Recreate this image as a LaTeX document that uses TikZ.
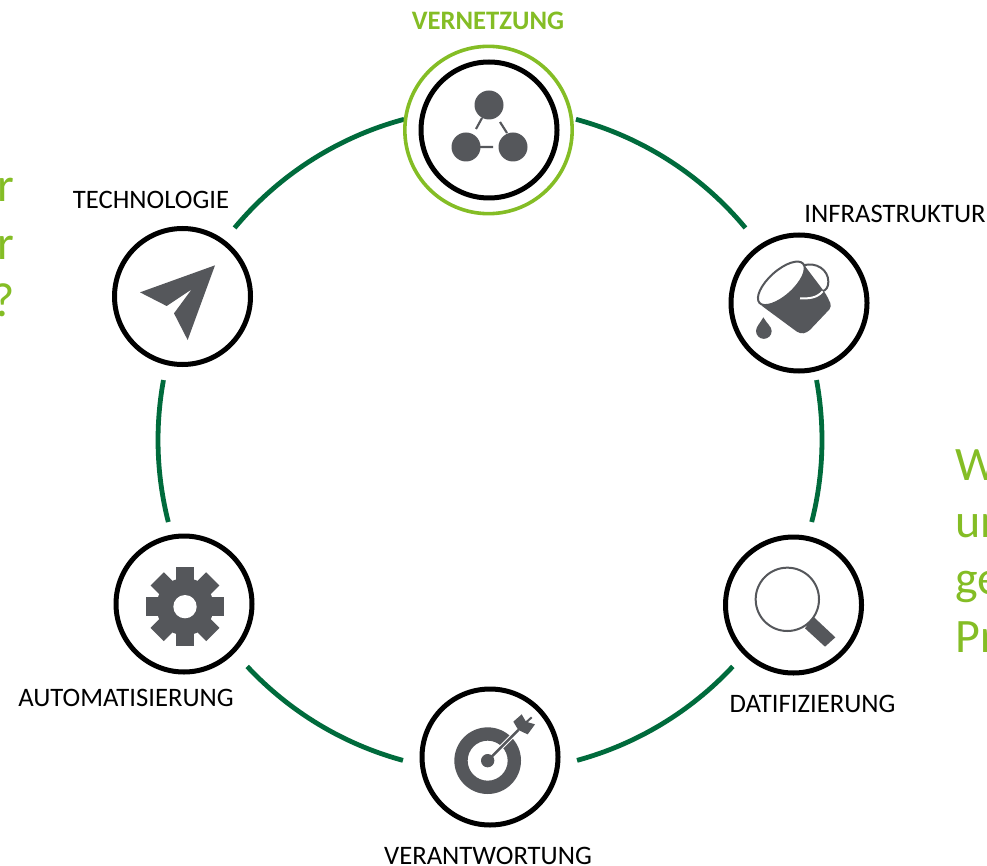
\documentclass[tikz,border=0pt]{standalone}
\usepackage{fontspec}
\usetikzlibrary{calc}
\setmainfont{Carlito}
\definecolor{lgreen}{HTML}{84BD25}
\definecolor{dgreen}{HTML}{006B3C}
\definecolor{icon}{HTML}{55575B}
\begin{document}
\begin{tikzpicture}[x=.75pt,y=.75pt,
  hub/.style={circle,draw=black,line width=3.75pt,fill=white,minimum size=102pt,inner sep=0pt},
  halo/.style={circle,draw=lgreen,line width=2.7pt,minimum size=125.5pt,inner sep=0pt},
  ringarc/.style={draw=dgreen,line width=3.6pt},
  lab/.style={font=\fontsize{20}{22}\selectfont,text=black,inner sep=0pt},
  big/.style={font=\fontsize{36}{40}\selectfont,text=lgreen,inner sep=0pt},
  ic/.style={fill=icon,draw=none},
  zoomed/.style={x=.25pt,y=-.25pt}]
\useasboundingbox (0,0) rectangle (987,865);
\clip (0,0) rectangle (987,865);
\fill[white] (0,0) rectangle (987,865);
\coordinate (c) at (490,425);
\foreach \n/\a/\b in {p/75/39.7,q/10.4/-14.3,r/-43/-74.8,s/-105.2/-137,t/194.3/169.6,u/140.3/105}{
  \coordinate (\n) at ($(c)+(\a:332)$);
  \draw[ringarc] (\n) arc[start angle=\a,end angle=\b,radius=332];
}
\node[hub] (vern) at (489,735) {};
\node[halo] (vernh) at (488.5,735) {};
\node[hub] (infra) at (799,562) {};
\node[hub] (dati) at (793.5,260) {};
\node[hub] (vera) at (490,108) {};
\node[hub] (auto) at (184,261) {};
\node[hub] (tech) at (182.5,568.5) {};
% labels
\node[lab,font=\fontsize{20}{22}\selectfont\bfseries,text=lgreen] (l1) at (488,844) {VERNETZUNG};
\node[lab] (l2) at (895,651) {INFRASTRUKTUR};
\node[lab] (l3) at (812.5,161) {DATIFIZIERUNG};
\node[lab] (l4) at (488,9) {VERANTWORTUNG};
\node[lab] (l5) at (126,167) {AUTOMATISIERUNG};
\node[lab] (l6) at (151,665) {TECHNOLOGIE};
% side text
\node[big,anchor=base east] (a1) at (15,663) {r};
\node[big,anchor=base east] (a2) at (15,605) {r};
\node[big,anchor=base east] (a3) at (15,548) {?};
\node[big,anchor=base west] (b1) at (955,385) {W};
\node[big,anchor=base west] (b2) at (955,328) {un};
\node[big,anchor=base west] (b3) at (955,271) {ge};
\node[big,anchor=base west] (b4) at (955,213) {Pr};
% network icon
\fill[ic] (489,760) circle[radius=14.5] (466,718) circle[radius=14.5] (513,718) circle[radius=14.5];
\draw[icon,line width=1.6pt] (476,736)--(482,747) (500,743)--(507,732) (480,718)--(493,718);
% bucket icon
\begin{scope}[shift={(720,665)},zoomed]
\fill[ic,rounded corners=3pt] (118,312) -- (240,402) -- (262,398) -- (336,320) -- (318,282) -- (247,188) -- cycle;
\draw[icon,line width=1.5pt] (250,196) .. controls (290,185) and (325,210) .. (325,245) .. controls (325,262) and (318,270) .. (308,274);
\draw[white,line width=1.5pt] (308,274) .. controls (290,295) and (265,296) .. (240,295);
\draw[icon,fill=white,line width=1.5pt,rotate around={42:(184,250)}] (184,250) ellipse[x radius=88,y radius=38];
\fill[ic] (130,352) .. controls (120,370) and (108,380) .. (108,393) arc[start angle=180,end angle=0,radius=23.5] .. controls (155,380) and (140,370) .. (130,352) -- cycle;
\end{scope}
% magnifier icon
\begin{scope}[shift={(710,435)},zoomed]
\draw[icon,line width=1.5pt] (232,508) circle[radius=95];
\fill[ic] (310,560) -- (376,622) -- (345,650) -- (285,595) -- cycle;
\end{scope}
% target icon
\begin{scope}[shift={(400,185)},zoomed]
\fill[ic,even odd rule] (263,242) circle[radius=100] circle[radius=60];
\fill[ic] (263,242) circle[radius=20];
\draw[white,line width=3.5pt] (290,215)--(345,160);
\draw[icon,line width=1.8pt] (263,242)--(355,150);
\fill[ic] (340,125) -- (365,103) -- (378,125) -- (405,133) -- (383,163) -- (355,150) -- cycle;
\draw[icon,line width=1.5pt] (375,130)--(395,112);
\end{scope}
% gear icon
\begin{scope}[shift={(0,345)},zoomed]
\fill[ic] (555,260) circle[radius=86];
\foreach \a in {0,45,...,315}{
  \fill[ic,rotate around={\a:(555,260)}] (527,260) -- (527,142) -- (583,142) -- (583,260) -- cycle;
}
\fill[white] (555,260) circle[radius=35];
\end{scope}
% plane icon
\begin{scope}[shift={(0,705)},zoomed]
\fill[ic] (420,397) -- (645,316) -- (563,540) -- (522,460) -- (575,388) -- (500,438) -- cycle;
\end{scope}
\end{tikzpicture}
\end{document}
